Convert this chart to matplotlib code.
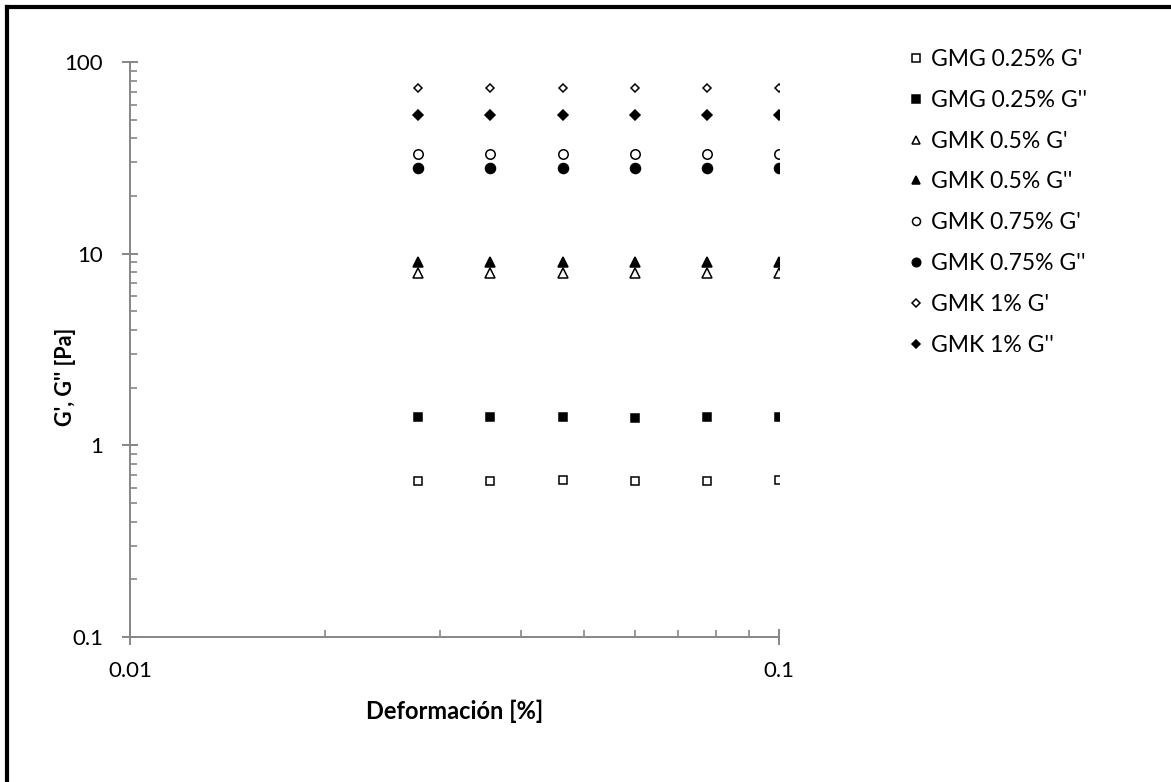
import matplotlib.pyplot as plt
from matplotlib.lines import Line2D
from matplotlib.ticker import LogLocator, FixedLocator, FixedFormatter, NullFormatter

plt.rcParams['font.family'] = ['Lato', 'DejaVu Sans']

# strain values [%]
strain = [0.0278, 0.0359, 0.0464, 0.0599, 0.0774, 0.1]

# moduli [Pa]
gmg025_gp = [0.65, 0.655, 0.66, 0.655, 0.655, 0.66]
gmg025_gpp = [1.40, 1.40, 1.40, 1.39, 1.40, 1.40]
gmk05_gp = [7.9, 7.9, 7.9, 7.9, 7.9, 7.9]
gmk05_gpp = [9.1, 9.1, 9.1, 9.1, 9.1, 9.1]
gmk075_gp = [33, 33, 33, 33, 33, 33]
gmk075_gpp = [28, 28, 28, 28, 28, 28]
gmk1_gp = [73, 73, 73, 73, 73, 73]
gmk1_gpp = [53, 53, 53, 53, 53, 53]

labels = ["GMG 0.25% G'", "GMG 0.25% G''", "GMK 0.5% G'", "GMK 0.5% G''",
          "GMK 0.75% G'", "GMK 0.75% G''", "GMK 1% G'", "GMK 1% G''"]
series = [gmg025_gp, gmg025_gpp, gmk05_gp, gmk05_gpp,
          gmk075_gp, gmk075_gpp, gmk1_gp, gmk1_gpp]
markers = ['s', 's', '^', '^', 'o', 'o', 'D', 'D']
sizes = [6.2, 6.4, 6.5, 6.5, 6.8, 7.2, 4.4, 4.6]
filled = [False, True, False, True, False, True, False, True]

fig = plt.figure(figsize=(11.71, 7.82), dpi=100)
ax = fig.add_axes([130 / 1171, 1 - 637 / 782, 649 / 1171, 575 / 782])

for y, lab, m, s, f in zip(series, labels, markers, sizes, filled):
    ax.plot(strain, y, linestyle='none', marker=m, markersize=s,
            markerfacecolor='black' if f else 'white',
            markeredgecolor='black', markeredgewidth=1.1, label=lab)

ax.set_xscale('log')
ax.set_yscale('log')
ax.set_xlim(0.01, 0.1)
ax.set_ylim(0.1, 100)

ax.xaxis.set_major_locator(FixedLocator([0.01, 0.1]))
ax.xaxis.set_major_formatter(FixedFormatter(['0.01', '0.1']))
ax.xaxis.set_minor_locator(LogLocator(base=10, subs=range(2, 10)))
ax.xaxis.set_minor_formatter(NullFormatter())
ax.yaxis.set_major_locator(FixedLocator([0.1, 1, 10, 100]))
ax.yaxis.set_major_formatter(FixedFormatter(['0.1', '1', '10', '100']))
ax.yaxis.set_minor_locator(LogLocator(base=10, subs=range(2, 10)))
ax.yaxis.set_minor_formatter(NullFormatter())

axis_grey = '#868686'
for side in ['top', 'right']:
    ax.spines[side].set_visible(False)
for side in ['left', 'bottom']:
    ax.spines[side].set_color(axis_grey)
    ax.spines[side].set_linewidth(1.4)

ax.tick_params(which='major', direction='inout', length=11, width=1.4,
               color=axis_grey, labelsize=16)
ax.tick_params(axis='x', which='major', pad=12)
ax.tick_params(axis='y', which='major', pad=14)
ax.tick_params(which='minor', direction='in', length=5, width=1.2,
               color=axis_grey)

ax.set_xlabel('Deformación [%]', fontsize=17, fontweight='bold', va='center')
ax.set_ylabel("G', G'' [Pa]", fontsize=15.5, fontweight='bold', va='center')
ax.xaxis.set_label_coords(0.5, -0.130)
ax.yaxis.set_label_coords(-0.100, 0.452)

ax.legend(loc='upper left', bbox_to_anchor=(909 / 1171, 1 - 49 / 782),
          bbox_transform=fig.transFigure, frameon=False, fontsize=16.5,
          borderpad=0, borderaxespad=0, handlelength=0.6, handletextpad=0.35,
          labelspacing=0.865, markerscale=0.85)

# border along the top and left edge
fig.add_artist(Line2D([7 / 1171, 1], [1 - 7 / 782, 1 - 7 / 782],
                      transform=fig.transFigure, color='black', linewidth=3))
fig.add_artist(Line2D([7 / 1171, 7 / 1171], [0, 1 - 7 / 782],
                      transform=fig.transFigure, color='black', linewidth=3))

fig.savefig('out.png', dpi=100)
